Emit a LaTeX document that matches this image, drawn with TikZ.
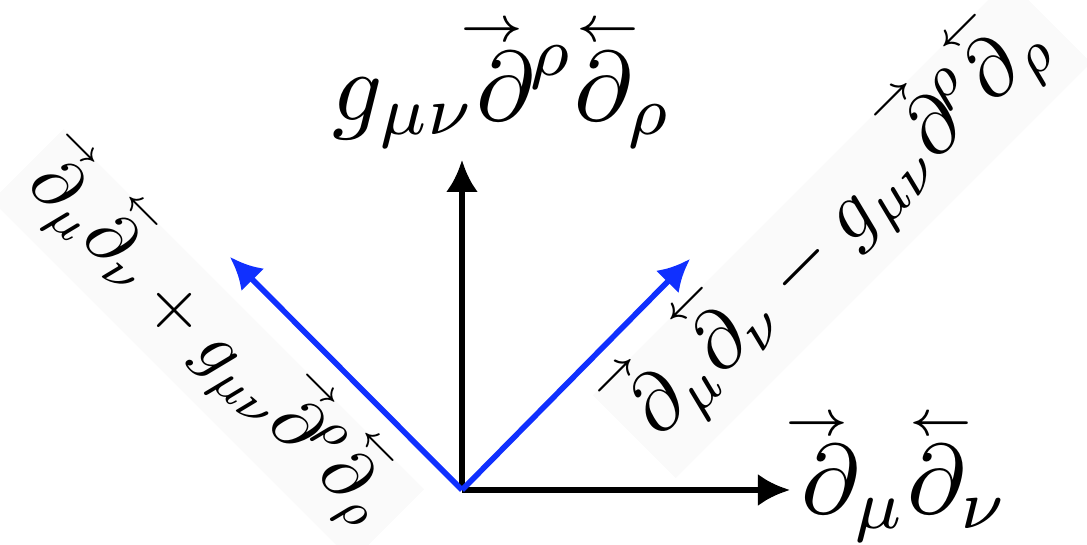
\documentclass[tikz,border=0pt]{standalone}
\usepackage{amsmath,amssymb}
\usepackage{tikz}
\usetikzlibrary{arrows.meta,positioning,calc}
\usepackage{xcolor}
\definecolor{vecblue}{RGB}{16,48,255}
\newcommand{\dR}{\mathord{\ooalign{$\partial$\kern-0.5pt\cr\hfil\smash{\llap{\raisebox{8pt}{$\scriptscriptstyle\rightarrow$}}}\kern0.4pt\cr}}}
\newcommand{\dL}{\mathord{\ooalign{$\partial$\kern-0.5pt\cr\smash{\rlap{\raisebox{8pt}{$\scriptscriptstyle\leftarrow$}}}\hfil\cr}}}

\begin{document}
\begin{tikzpicture}[every node/.style={scale=2.8},
    axis/.style={line width=1.6pt, -{Latex[length=3.2mm,width=3.2mm]}},
    rotlabel/.style={fill=black!2, inner sep=2pt}]
            \useasboundingbox (0,0) rectangle (10.87,5.45);
            \coordinate (o) at (4.62,0.55);
            \coordinate (ex) at (7.90,0.55);
            \coordinate (ey) at (4.62,3.85);
            \coordinate (ep) at (2.30,2.88);
            \coordinate (em) at (6.90,2.86);
            \node[inner sep=0pt, anchor=base west] (dd) at (8.0,0.31) {$\dR_{\mu}\dL_{\nu}$};
            \node[inner sep=0pt, anchor=base] (gdd) at (5.03,4.25) {$g_{\mu\nu}\dR^{\rho}\dL_{\rho}$};
            \node[rotlabel, rotate=-45, scale=0.72] (plus) at (2.08,2.00) {$\dR_{\mu}\dL_{\nu}+g_{\mu\nu}\dR^{\rho}\dL_{\rho}$};
            \node[rotlabel, rotate=45, scale=0.83] (minus) at (8.42,3.16) {$\dR_{\mu}\dL_{\nu}-g_{\mu\nu}\dR^{\rho}\dL_{\rho}$};
            \draw[axis] (o) -- (ex);
            \draw[axis] (o) -- (ey);
            \draw[axis, vecblue] (o) -- (ep);
            \draw[axis, vecblue] (o) -- (em);
        \end{tikzpicture}
\end{document}
